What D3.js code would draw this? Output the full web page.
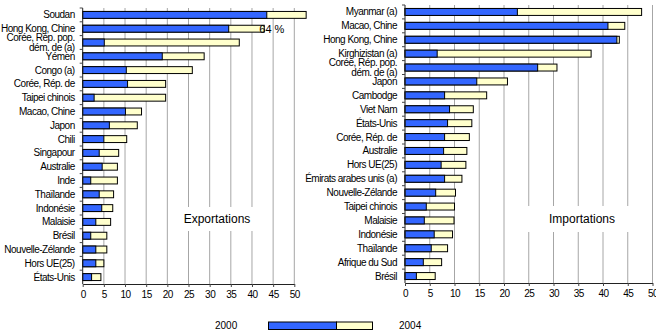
<!DOCTYPE html>
<html>
<head>
<meta charset="utf-8">
<script src="https://cdn.jsdelivr.net/npm/d3@7"></script>
<style>
  body { margin: 0; background: #fff; }
  svg { font-family: "Liberation Sans", Arial, sans-serif; }
</style>
</head>
<body>
<svg id="canvas"></svg>
<script>
const width = 656;
const height = 335;

// Exportations (left panel)
const expCategories = ['Soudan', 'Hong Kong, Chine', 'Corée, Rép. pop.\ndém. de (a)', 'Yémen', 'Congo (a)',
  'Corée, Rép. de', 'Taipei chinois', 'Macao, Chine', 'Japon', 'Chili', 'Singapour', 'Australie', 'Inde',
  'Thaïlande', 'Indonésie', 'Malaisie', 'Brésil', 'Nouvelle-Zélande', 'Hors UE(25)', 'États-Unis'];
const exp2000 = [43.5, 34.5, 5.1, 18.8, 10.3, 10.6, 2.7, 10.1, 6.3, 5.0, 3.9, 4.6, 1.9, 3.9, 4.5, 3.1, 1.9, 3.1, 3.1, 2.1];
const exp2004 = [64, 42.9, 37.0, 28.7, 25.9, 19.6, 19.6, 13.9, 12.9, 10.4, 8.5, 8.2, 8.2, 7.3, 7.1, 6.6, 5.7, 5.7, 5.0, 4.3];

// Importations (right panel)
const impCategories = ['Myanmar (a)', 'Macao, Chine', 'Hong Kong, Chine', 'Kirghizistan (a)',
  'Corée, Rép. pop.\ndém. de (a)', 'Japon', 'Cambodge', 'Viet Nam', 'États-Unis', 'Corée, Rép. de',
  'Australie', 'Hors UE(25)', 'Émirats arabes unis (a)', 'Nouvelle-Zélande', 'Taipei chinois', 'Malaisie',
  'Indonésie', 'Thaïlande', 'Afrique du Sud', 'Brésil'];
const imp2000 = [22.7, 41.0, 42.8, 6.5, 26.8, 14.5, 8.0, 9.0, 8.6, 8.0, 7.8, 7.3, 8.0, 6.2, 4.3, 3.9, 5.9, 5.3, 3.7, 2.3];
const imp2004 = [47.8, 44.4, 43.3, 37.6, 30.7, 20.7, 16.5, 13.8, 13.5, 13.0, 12.5, 12.3, 11.5, 10.2, 10.0, 9.9, 9.6, 8.6, 7.4, 6.1];

const xTicks = [0, 5, 10, 15, 20, 25, 30, 35, 40, 45, 50];
const years = ['2000', '2004'];

const blue = '#3366ff';
const yellow = '#ffffcc';
const gridColor = '#a6a6a6';

const svg = d3.select('#canvas').attr('width', width).attr('height', height);

function drawPanel(cfg) {
  const x = d3.scaleLinear().domain([0, 50]).range(cfg.xRange);
  const y = d3.scaleBand().domain(cfg.categories).range(cfg.yRange)
    .paddingInner(0.5).paddingOuter(0.25);
  const g = svg.append('g');
  const slot = (y.step() - y.bandwidth()) / 2;
  const rows = cfg.categories.map((c, i) => ({ c, v0: cfg.v2000[i], v4: cfg.v2004[i] }));
  const barEnd = (v) => Math.min(x(v), x(cfg.clipMax));

  // gridlines
  g.selectAll('.grid').data(xTicks.slice(1)).enter().append('line')
    .attr('x1', (d) => x(d)).attr('x2', (d) => x(d))
    .attr('y1', cfg.yRange[0]).attr('y2', cfg.yRange[1])
    .attr('stroke', gridColor).attr('stroke-width', 1);

  // text box
  g.append('rect')
    .attr('x', cfg.box[0]).attr('y', cfg.box[1])
    .attr('width', cfg.box[2]).attr('height', cfg.box[3])
    .attr('fill', '#fff');
  g.append('text')
    .attr('x', cfg.box[0] + cfg.box[2] / 2).attr('y', cfg.box[1] + cfg.box[3] / 2 + 4)
    .attr('text-anchor', 'middle').attr('font-size', 12).attr('fill', '#000')
    .text(cfg.title);

  // 2004 bars behind, 2000 bars on top
  g.selectAll('.b2004').data(rows).enter().append('rect')
    .attr('x', x(0)).attr('y', (d) => y(d.c))
    .attr('width', (d) => barEnd(d.v4) - x(0)).attr('height', y.bandwidth())
    .attr('fill', yellow).attr('stroke', '#000').attr('stroke-width', 1);
  g.selectAll('.b2000').data(rows).enter().append('rect')
    .attr('x', x(0)).attr('y', (d) => y(d.c))
    .attr('width', (d) => x(d.v0) - x(0)).attr('height', y.bandwidth())
    .attr('fill', blue).attr('stroke', '#000').attr('stroke-width', 1);

  // x axis
  const xAxis = d3.axisBottom(x).tickValues(xTicks).tickSize(3).tickPadding(4).tickSizeOuter(0);
  const ax = g.append('g')
    .attr('transform', `translate(0, ${cfg.yRange[1]})`)
    .call(xAxis);
  ax.select('.domain').attr('stroke', '#222');
  ax.selectAll('.tick line').attr('stroke', '#444');
  ax.selectAll('text').attr('font-size', 10).attr('letter-spacing', '-0.5px')
    .attr('font-family', '"Liberation Sans", Arial, sans-serif').attr('fill', '#000');

  // y axis line and ticks at slot boundaries
  g.append('line')
    .attr('x1', x(0)).attr('x2', x(0))
    .attr('y1', cfg.yRange[0]).attr('y2', cfg.yRange[1])
    .attr('stroke', '#222');
  g.selectAll('.ytick').data(rows).enter().append('line')
    .attr('x1', x(0) - 3).attr('x2', x(0))
    .attr('y1', (d) => y(d.c) - slot).attr('y2', (d) => y(d.c) - slot)
    .attr('stroke', '#444');

  // category labels
  const lbl = g.selectAll('.lbl').data(rows).enter().append('text')
    .attr('text-anchor', 'end').attr('font-size', 10).attr('letter-spacing', '-0.5px')
    .attr('fill', '#000')
    .attr('transform', (d) => `translate(${x(0) - 8}, ${y(d.c) + y.bandwidth() / 2})`);
  lbl.each(function (d) {
    const lines = d.c.split('\n');
    const t = d3.select(this);
    lines.forEach((l, i) => {
      t.append('tspan').attr('x', 0)
        .attr('y', (i - (lines.length - 1) / 2) * 9.5 + 3.5)
        .text(l);
    });
  });
  return { x, y };
}

const left = drawPanel({
  categories: expCategories, v2000: exp2000, v2004: exp2004,
  xRange: [82.7, 294.3], yRange: [8, 284], clipMax: 52.8,
  title: 'Exportations', box: [175, 207, 84, 24],
});

drawPanel({
  categories: impCategories, v2000: imp2000, v2004: imp2004,
  xRange: [405, 652.5], yRange: [5, 283], clipMax: 60,
  title: 'Importations', box: [518, 206, 128, 26],
});

// value of the clipped Soudan 2004 bar
svg.append('text')
  .attr('x', left.x(44.7))
  .attr('y', left.y(expCategories[1]) + left.y.bandwidth() / 2 + 4)
  .attr('text-anchor', 'middle').attr('font-size', 11)
  .text(`${exp2004[0]} %`);

// legend
const legend = svg.append('g');
legend.append('text').attr('x', 215).attr('y', 329).attr('font-size', 10).text(years[0]);
legend.append('rect').attr('x', 268.5).attr('y', 322).attr('width', 68).attr('height', 7.5)
  .attr('fill', blue).attr('stroke', '#000');
legend.append('rect').attr('x', 336.5).attr('y', 322).attr('width', 36).attr('height', 7.5)
  .attr('fill', yellow).attr('stroke', '#000');
legend.append('text').attr('x', 399).attr('y', 329).attr('font-size', 10).text(years[1]);
</script>
</body>
</html>
